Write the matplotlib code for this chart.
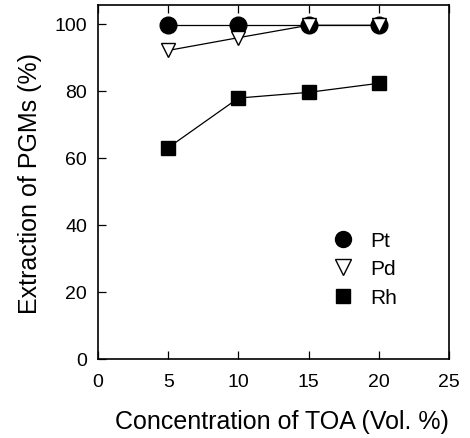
import matplotlib
matplotlib.use("Agg")
import matplotlib.pyplot as plt
from matplotlib.lines import Line2D

plt.rcParams['font.family'] = ['Liberation Sans', 'DejaVu Sans']

conc = [5, 10, 15, 20]
pt = [99.5, 99.5, 99.5, 99.5]
pd_ = [92, 95.8, 99.5, 99.5]
rh = [63, 77.8, 79.5, 82.2]
xticks = [0, 5, 10, 15, 20, 25]
yticks = [0, 20, 40, 60, 80, 100]

fig = plt.figure(figsize=(4.70, 4.39), dpi=100)
ax = fig.add_axes([0.2085, 0.18, 0.747, 0.806])

ax.plot(conc, pt, '-', color='black', lw=0.9, marker='o', ms=12, mfc='black', mec='black', zorder=2)
ax.plot(conc, pd_, '-', color='black', lw=0.9, marker='v', ms=10.5, mfc='white', mec='black', mew=1.0, zorder=3)
ax.plot(conc, rh, '-', color='black', lw=0.9, marker='s', ms=10, mfc='black', mec='black', zorder=2)

ax.set_xlim(0, 25)
ax.set_ylim(0, 105.5)
ax.set_xticks(xticks)
ax.set_yticks(yticks)
ax.tick_params(axis='both', direction='in', length=6, width=0.9, labelsize=14)
ax.tick_params(axis='x', top=True, pad=10)
ax.tick_params(axis='y', pad=8)
for s in ax.spines.values():
    s.set_linewidth(1.2)

ax.set_xlabel('Concentration of TOA (Vol. %)', fontsize=18, labelpad=14)
ax.xaxis.label.set_x(0.525)
ax.set_ylabel('Extraction of PGMs (%)', fontsize=18, labelpad=9)

handles = [
    Line2D([], [], ls='none', marker='o', ms=11.5, mfc='black', mec='black'),
    Line2D([], [], ls='none', marker='v', ms=11, mfc='white', mec='black'),
    Line2D([], [], ls='none', marker='s', ms=10, mfc='black', mec='black'),
]
ax.legend(handles, ['Pt', 'Pd', 'Rh'], loc='upper left', bbox_to_anchor=(0.645, 0.385),
          frameon=False, fontsize=15, handlelength=1.0, handletextpad=0.8,
          labelspacing=0.45, borderaxespad=0)

fig.savefig('out.png', dpi=100)
